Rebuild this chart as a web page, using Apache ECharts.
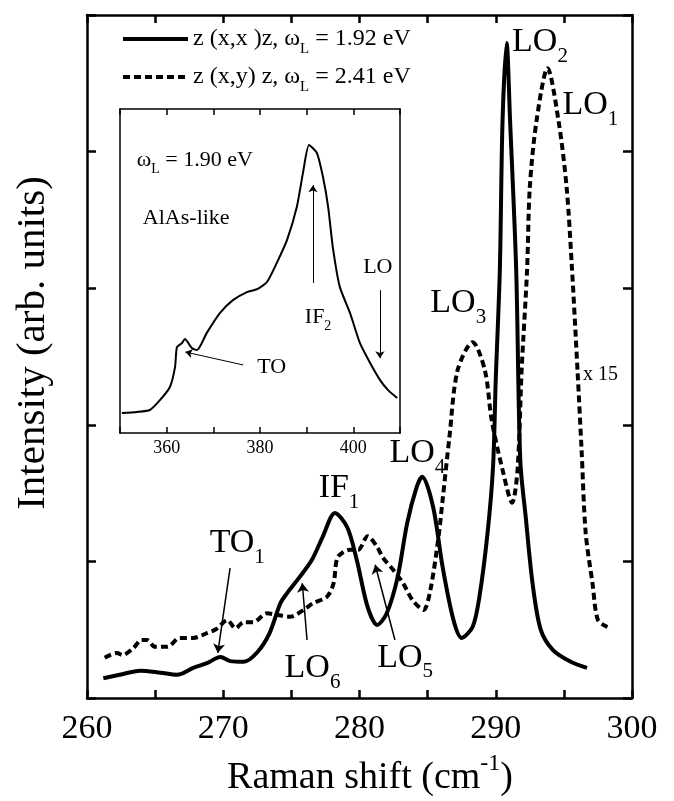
<!DOCTYPE html>
<html>
<head>
<meta charset="utf-8">
<script src="https://cdn.jsdelivr.net/npm/echarts@6/dist/echarts.min.js"></script>
<style>
  html, body { margin: 0; background: #fff; }
  #chart { width: 674px; height: 801px; }
</style>
</head>
<body>
<div id="chart"></div>
<script>
// z(x,x)z, wL = 1.92 eV (solid)
var parShift = [261.2, 262.4, 263.9, 265.4, 266.6, 267.8, 268.8, 269.8, 270.5, 271.5, 272.5, 273.4, 274.2, 274.7,
  275.6, 276.5, 277.3, 278.2, 279.1, 279.8, 280.6, 281.3, 282.0, 282.8, 283.5, 284.2, 284.6, 285.4, 286.1, 286.9,
  287.5, 288.3, 288.8, 289.4, 289.8, 290.0, 290.3, 290.5, 290.8, 291.05, 291.5, 291.8, 292.2, 292.7, 293.3, 294.2,
  295.5, 296.7];
var parInt = [2.9, 3.4, 4.0, 3.7, 3.4, 4.4, 5.1, 6.0, 5.4, 5.3, 6.7, 9.5, 13.9, 15.4,
  17.7, 20.2, 23.6, 27.1, 25.0, 20.2, 13.3, 10.7, 12.4, 17.7, 25.6, 30.9, 32.4, 28.0, 19.2, 11.4,
  8.8, 10.4, 14.8, 24.2, 33.8, 46.6, 62.7, 84.6, 95.9, 84.6, 62.7, 34.8, 26.5, 16.8, 10.0, 7.0,
  5.3, 4.4];

// z(x,y)z, wL = 2.41 eV (dashed, x 15)
var perShift = [261.3, 262.2, 262.6, 263.4, 264.0, 264.4, 265.0, 265.9, 266.8, 267.8, 268.8, 269.5, 270.3, 270.9,
  271.5, 272.2, 273.2, 273.9, 274.9, 275.9, 276.6, 277.6, 278.1, 278.4, 279.3, 279.9, 280.6, 281.3, 281.7, 282.5,
  283.2, 283.9, 284.7, 285.2, 285.8, 286.1, 286.6, 287.2, 288.3, 289.2, 289.7, 290.5, 291.2, 291.6, 291.9, 292.3,
  292.5, 293.0, 293.8, 294.6, 295.2, 295.6, 296.0, 296.3, 296.6, 297.1, 297.5, 298.2];
var perInt = [5.9, 6.6, 6.3, 7.3, 8.5, 8.5, 7.5, 7.5, 8.8, 8.8, 9.5, 10.1, 11.4, 10.2,
  11.1, 11.1, 12.4, 12.2, 11.9, 12.9, 13.9, 14.8, 16.8, 20.6, 21.7, 21.7, 23.7, 22.1, 20.6, 18.7,
  16.8, 14.3, 12.9, 15.8, 23.6, 29.0, 38.2, 48.0, 52.1, 48.0, 40.7, 33.4, 28.6, 33.4, 48.0, 62.7,
  74.8, 84.6, 92.2, 84.6, 74.8, 62.7, 48.0, 36.3, 24.2, 16.8, 11.4, 10.4];

// inset: AlAs-like, wL = 1.90 eV
var insShift = [350.4, 353.6, 356.4, 358.6, 360.7, 361.8, 362.2, 363.3, 363.9, 365.4, 366.5, 368.6, 371.4, 374.2,
  377.2, 379.4, 381.5, 383.6, 385.8, 387.9, 389.2, 390.5, 392.2, 393.5, 394.6, 395.6, 397.1, 399.3, 401.4, 403.6,
  405.7, 407.4, 409.4];
var insInt = [6.2, 6.5, 7.1, 10.2, 14.2, 20.4, 26.5, 27.8, 29.0, 26.2, 25.6, 30.9, 37.0, 41.0,
  43.5, 44.4, 46.6, 52.5, 59.6, 69.8, 80.2, 88.9, 86.4, 79.0, 69.8, 57.4, 45.1, 37.0, 27.8, 21.6,
  16.4, 13.3, 10.8];

// peak labels: text, subscript, shift, intensity (left / middle of text)
var mainLabels = [
  ['LO', '2', 291.2, 96.0],
  ['LO', '1', 294.9, 86.8],
  ['LO', '3', 285.2, 57.8],
  ['LO', '4', 282.2, 35.9],
  ['IF', '1', 277.0, 30.7],
  ['TO', '1', 269.0, 22.7],
  ['LO', '6', 274.5, 4.4],
  ['LO', '5', 281.3, 5.9]
];
var mainArrows = [
  [[270.5, 19.0], [269.6, 6.6]],
  [[276.15, 8.5], [275.8, 16.8]],
  [[282.6, 8.5], [281.15, 19.5]]
];
var insetLabels = [
  ['AlAs-like', '', 354.9, 66.4],
  ['LO', '', 402.1, 51.2],
  ['IF', '2', 389.6, 35.8],
  ['TO', '', 379.4, 20.4]
];
var insetArrows = [
  [[391.35, 46.3], [391.35, 76.5]],
  [[405.7, 44.1], [405.7, 23.1]]
];
var insetCurvedArrow = [[376.4, 21.0], [364.0, 25.0]];

function zip(a, b) { return a.map(function(v, i) { return [v, b[i]]; }); }

var serif = '"Liberation Serif", "Times New Roman", serif';
var chart = echarts.init(document.getElementById('chart'), null, { renderer: 'canvas' });

function frameAxis(grid, pos, min, max, interval, tickLen, lw, showLabel, extra) {
  var ax = {
    gridIndex: grid, position: pos, type: 'value', min: min, max: max, interval: interval,
    axisLine: { show: true, onZero: false, lineStyle: { color: '#000', width: lw } },
    axisTick: { show: tickLen > 0, inside: true, length: tickLen, lineStyle: { color: '#000', width: lw } },
    axisLabel: { show: showLabel },
    splitLine: { show: false }
  };
  if (extra) for (var k in extra) ax[k] = extra[k];
  return ax;
}

chart.setOption({
  animation: false,
  backgroundColor: '#fff',
  grid: [
    { left: 87, top: 15, width: 545, height: 683 },
    { left: 120, top: 109, width: 280, height: 324, show: true, backgroundColor: '#fff', borderWidth: 0, z: 3 }
  ],
  xAxis: [
    frameAxis(0, 'bottom', 260, 300, 5, 8, 2.5, true, {
      axisLabel: { show: true, margin: 14, color: '#000', fontSize: 34, fontFamily: serif,
        formatter: function(v) { return v % 10 === 0 ? v : ''; } }
    }),
    frameAxis(0, 'top', 260, 300, 5, 8, 2.5, false),
    frameAxis(1, 'bottom', 350, 410, 10, 6, 1.5, true, {
      z: 4,
      axisLabel: { show: true, margin: 6, color: '#000', fontSize: 18, fontFamily: serif,
        formatter: function(v) { return (v % 20 === 0 && v > 350 && v < 410) ? v : ''; } }
    }),
    frameAxis(1, 'top', 350, 410, 10, 6, 1.5, false, { z: 4 })
  ],
  yAxis: [
    frameAxis(0, 'left', 0, 100, 20, 9, 2.5, false),
    frameAxis(0, 'right', 0, 100, 20, 9, 2.5, false),
    frameAxis(1, 'left', 0, 100, 20, 0, 1.5, false, { z: 4 }),
    frameAxis(1, 'right', 0, 100, 20, 0, 1.5, false, { z: 4 })
  ],
  series: [
    {
      name: 'z (x,x )z, ωL = 1.92 eV', type: 'line', xAxisIndex: 0, yAxisIndex: 0,
      data: zip(parShift, parInt), smooth: 0.3, showSymbol: false,
      lineStyle: { color: '#000', width: 4 },
      markLine: {
        silent: true, symbol: ['none', 'arrow'], symbolSize: 9, label: { show: false },
        lineStyle: { color: '#000', width: 1.5, type: 'solid' },
        data: mainArrows.map(function(a) { return [{ coord: a[0] }, { coord: a[1] }]; })
      }
    },
    {
      name: 'z (x,y) z, ωL = 2.41 eV', type: 'line', xAxisIndex: 0, yAxisIndex: 0,
      data: zip(perShift, perInt), smooth: 0.3, showSymbol: false,
      lineStyle: { color: '#000', width: 4, type: [7, 4] }
    },
    {
      name: 'AlAs-like', type: 'line', xAxisIndex: 2, yAxisIndex: 2, z: 5,
      data: zip(insShift, insInt), smooth: 0.2, showSymbol: false,
      lineStyle: { color: '#000', width: 2 },
      markLine: {
        silent: true, symbol: ['none', 'arrow'], symbolSize: 7, label: { show: false },
        lineStyle: { color: '#000', width: 1, type: 'solid' },
        data: insetArrows.map(function(a) { return [{ coord: a[0] }, { coord: a[1] }]; }).concat([
          [{ coord: insetCurvedArrow[0], lineStyle: { curveness: -0.35 } }, { coord: insetCurvedArrow[1] }]
        ])
      }
    }
  ]
});

// text with sub/superscripts
var ctx = document.createElement('canvas').getContext('2d');
function textW(t, fs) { ctx.font = fs + 'px ' + serif; return ctx.measureText(t).width; }
function drawParts(parts, px, py, size, out, center) {
  var small = Math.round(size * 0.62);
  var total = 0;
  parts.forEach(function(p) { total += textW(p[0], p[1] === 'n' ? size : small); });
  var x = center ? px - total / 2 : px;
  parts.forEach(function(p) {
    var fs = p[1] === 'n' ? size : small;
    var dy = p[1] === 'sub' ? size * 0.42 : (p[1] === 'sup' ? -size * 0.38 : 0);
    out.push({
      type: 'text', x: x, y: py + dy, silent: true, z: 100,
      style: { text: p[0], font: fs + 'px ' + serif, fill: '#000',
        textAlign: 'left', align: 'left', textVerticalAlign: 'middle', verticalAlign: 'middle' }
    });
    x += textW(p[0], fs);
  });
}

var g = [];
mainLabels.forEach(function(l) {
  var p = chart.convertToPixel({ xAxisIndex: 0, yAxisIndex: 0 }, [l[2], l[3]]);
  drawParts([[l[0], 'n'], [l[1], 'sub']], p[0], p[1], 34, g);
});
var px15 = chart.convertToPixel({ xAxisIndex: 0, yAxisIndex: 0 }, [296.4, 47.3]);
drawParts([['x 15', 'n']], px15[0], px15[1], 20, g);

insetLabels.forEach(function(l) {
  var p = chart.convertToPixel({ xAxisIndex: 2, yAxisIndex: 2 }, [l[2], l[3]]);
  drawParts(l[1] ? [[l[0], 'n'], [l[1], 'sub']] : [[l[0], 'n']], p[0], p[1], 22, g);
});
var pw = chart.convertToPixel({ xAxisIndex: 2, yAxisIndex: 2 }, [353.6, 84.3]);
drawParts([['ω', 'n'], ['L', 'sub'], [' = 1.90 eV', 'n']], pw[0], pw[1], 22, g);

// legend
g.push({ type: 'line', z: 100, shape: { x1: 123, y1: 39, x2: 188, y2: 39 }, style: { stroke: '#000', lineWidth: 4 } });
g.push({ type: 'line', z: 100, shape: { x1: 123, y1: 77, x2: 188, y2: 77 }, style: { stroke: '#000', lineWidth: 4, lineDash: [7, 4] } });
drawParts([['z (x,x )z, ω', 'n'], ['L', 'sub'], [' = 1.92 eV', 'n']], 193, 39, 24, g);
drawParts([['z (x,y) z, ω', 'n'], ['L', 'sub'], [' = 2.41 eV', 'n']], 193, 77, 24, g);

// axis titles
drawParts([['Raman shift (cm', 'n'], ['-1', 'sup'], [')', 'n']], 370, 778, 38, g, true);
g.push({
  type: 'text', x: 33, y: 343, rotation: Math.PI / 2, z: 100,
  style: { text: 'Intensity (arb. units)', font: '41px ' + serif, fill: '#000',
    textAlign: 'center', align: 'center', textVerticalAlign: 'middle', verticalAlign: 'middle' }
});

chart.setOption({ graphic: g });
window.addEventListener('resize', function() { chart.resize(); });
</script>
</body>
</html>
